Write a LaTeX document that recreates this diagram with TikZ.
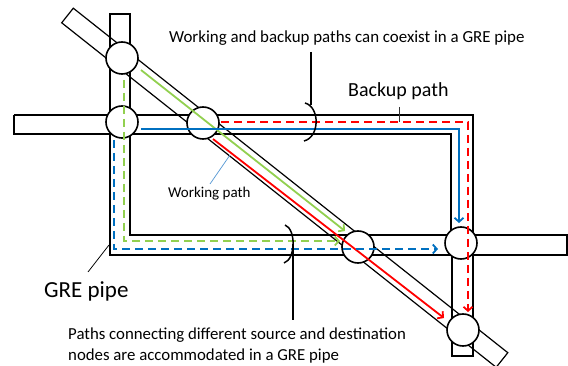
\documentclass[tikz,border=0pt]{standalone}
\usepackage{fontspec}
\setmainfont{Carlito}
\usetikzlibrary{arrows.meta}
\definecolor{pathgreen}{RGB}{146,208,80}
\definecolor{pathblue}{RGB}{0,112,192}
\definecolor{pathred}{RGB}{255,0,0}
\definecolor{leaderblue}{RGB}{91,155,213}
\begin{document}
\begin{tikzpicture}[x=1pt,y=-1pt,
  pipe/.style={draw=black,line width=1.2pt,line join=miter},
  router/.style={circle,draw=black,line width=1.6pt,fill=white,minimum size=32pt,inner sep=0pt},
  tip/.style={-{Straight Barb[length=4pt,width=9pt]}},
  workline/.style={line width=1.8pt,tip},
  backline/.style={line width=1.8pt,dash pattern=on 8pt off 5pt,tip},
  leader/.style={line width=0.75pt},
  brace/.style={line width=1.5pt},
  lbl/.style={inner sep=0pt,anchor=base west}
]
\useasboundingbox (0,0) rectangle (568,366);

% ---- GRE pipes (outlines) ----
% left pipe running into the bottom pipe
\draw[pipe] (130,115) -- (130,14) -- (110,14) -- (110,255) -- (452,255);
\draw[pipe] (130,134) -- (130,235) -- (452,235);
% top pipe running into the right pipe
\draw[pipe] (14,115) -- (473,115) -- (473,356) -- (452,356) -- (452,255);
\draw[pipe] (14,115) -- (14,134) -- (451,134) -- (451,235);
% bottom pipe beyond the right pipe
\draw[pipe] (473,235) -- (567,235) -- (567,255) -- (473,255);
% diagonal pipe
\draw[pipe] (73.3,8.2) -- (61.7,22.8) -- (496.2,367.3) -- (507.8,352.7) -- cycle;

% ---- routers ----
\node[router] (r1) at (122,58) {};
\node[router] (r2) at (122,122) {};
\node[router] (r3) at (203,123) {};
\node[router] (r4) at (358,247) {};
\node[router] (r5) at (461,243) {};
\node[router] (r6) at (463,330) {};

% ---- path end points ----
\coordinate (gs0) at (141,70);   \coordinate (gs1) at (345,231);
\coordinate (rs0) at (213,139);  \coordinate (rs1) at (444,318);
\coordinate (bs0) at (141,129);  \coordinate (bs1) at (459,223);
\coordinate (rd0) at (221,122);  \coordinate (rd1) at (468,312);
\coordinate (gd0) at (124,80);   \coordinate (gd1) at (340,241);
\coordinate (bd0) at (114,140);  \coordinate (bd1) at (438,249);

% working paths
\draw[workline,pathgreen] (gs0) -- (gs1);
\draw[workline,pathred] (rs0) -- (rs1);
\draw[workline,pathblue] (bs0) -| (bs1);
% backup paths
\draw[backline,pathred] (rd0) -| (rd1);
\draw[backline,pathgreen] (gd0) |- (gd1);
\draw[backline,pathblue] (bd0) |- (bd1);

% ---- labels ----
\node[lbl,font=\fontsize{16.9}{20}\selectfont] (tcoex) at (169,43)
  {Working and backup paths can coexist in a GRE pipe};
\node[lbl,font=\fontsize{20}{24}\selectfont] (tbackup) at (348,97) {Backup path};
\node[lbl,font=\fontsize{15}{18}\selectfont] (twork) at (168,198) {Working path};
\node[lbl,font=\fontsize{23}{27}\selectfont] (tgre) at (44,298) {GRE pipe};
\node[lbl,font=\fontsize{16.8}{20}\selectfont] (tmulti) at (68,339)
  {Paths connecting different source and destination};
\node[lbl,font=\fontsize{16.8}{20}\selectfont] (tmulti2) at (68,360)
  {nodes are accommodated in a GRE pipe};

% ---- leaders ----
\coordinate (wl0) at (210,184); \coordinate (wl1) at (230,155);
\draw[leader,leaderblue] (wl0) -- (wl1);
\coordinate (gl0) at (88,272); \coordinate (gl1) at (109,245);
\draw[leader] (gl0) -- (gl1);
\coordinate (bl0) at (399,107); \coordinate (bl1) at (399,122);
\draw[leader,black!80] (bl0) -- (bl1);

% ---- brackets ----
\coordinate (ub0) at (311,52); \coordinate (ub1) at (311,105);
\draw[brace] (ub0) -- (ub1);
\draw[brace] (305,103) .. controls (320,107) and (320,137) .. (304,141);
\coordinate (lb0) at (293,244); \coordinate (lb1) at (293,320);
\draw[brace] (lb0) -- (lb1);
\draw[brace] (285,225) .. controls (296,229) and (296,259) .. (284,263);
\end{tikzpicture}
\end{document}
